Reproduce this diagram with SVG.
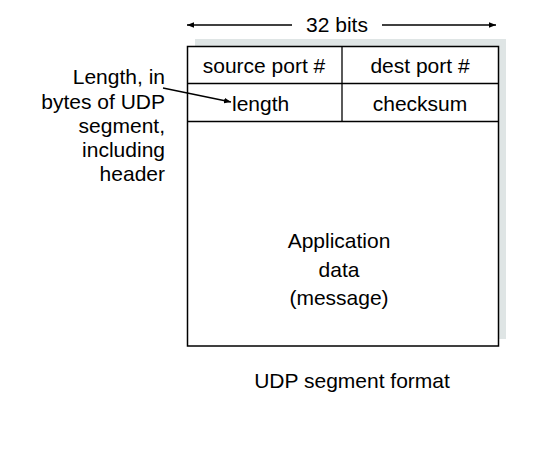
<svg xmlns="http://www.w3.org/2000/svg" width="549" height="455" viewBox="0 0 549 455">
<style>
text{font-family:"Liberation Sans","DejaVu Sans",sans-serif;font-size:21px;fill:#000}
.c{text-anchor:middle}
.r{text-anchor:end}
.ln{stroke:#000;stroke-width:1.3;fill:none}
</style>
<defs>
<marker id="ah" viewBox="0 0 10 10" refX="10" refY="5" markerWidth="7" markerHeight="7" orient="auto" markerUnits="userSpaceOnUse">
<path d="M0,1 L10,5 L0,9 Z" fill="#000"/>
</marker>
</defs>
<rect width="549" height="455" fill="#fff"/>
<g id="shadow">
<rect x="195" y="39" width="311" height="8" fill="#dfe5e5"/>
<rect x="498" y="39" width="8" height="300" fill="#dfe5e5"/>
</g>
<g id="box">
<rect x="187.5" y="46.5" width="311" height="299.5" fill="#fff" stroke="#000" stroke-width="1.5"/>
<line class="ln" x1="187.5" y1="83.5" x2="498.5" y2="83.5"/>
<line class="ln" x1="187.5" y1="121.5" x2="498.5" y2="121.5"/>
<line class="ln" x1="342" y1="46.5" x2="342" y2="121.5"/>
</g>
<g id="source-port"><text class="c" x="264" y="73">source port #</text></g>
<g id="dest-port"><text class="c" x="420" y="73">dest port #</text></g>
<g id="length"><text x="232" y="111">length</text></g>
<g id="checksum"><text class="c" x="420" y="111">checksum</text></g>
<g id="app-data">
<text class="c" x="339" y="248">Application</text>
<text class="c" x="339" y="277">data</text>
<text class="c" x="339" y="305">(message)</text>
</g>
<g id="bits-label"><text class="c" x="337" y="32">32 bits</text></g>
<g id="length-note">
<text class="r" x="165" y="84">Length, in</text>
<text class="r" x="165" y="109">bytes of UDP</text>
<text class="r" x="165" y="133">segment,</text>
<text class="r" x="165" y="157">including</text>
<text class="r" x="165" y="181">header</text>
</g>
<g id="caption"><text class="c" x="352" y="388">UDP segment format</text></g>
<g id="connectors">
<line class="ln" x1="292" y1="25" x2="187" y2="25" marker-end="url(#ah)"/>
<line class="ln" x1="382" y1="25" x2="496" y2="25" marker-end="url(#ah)"/>
<line class="ln" x1="163" y1="88" x2="231" y2="102" marker-end="url(#ah)"/>
</g>
</svg>
